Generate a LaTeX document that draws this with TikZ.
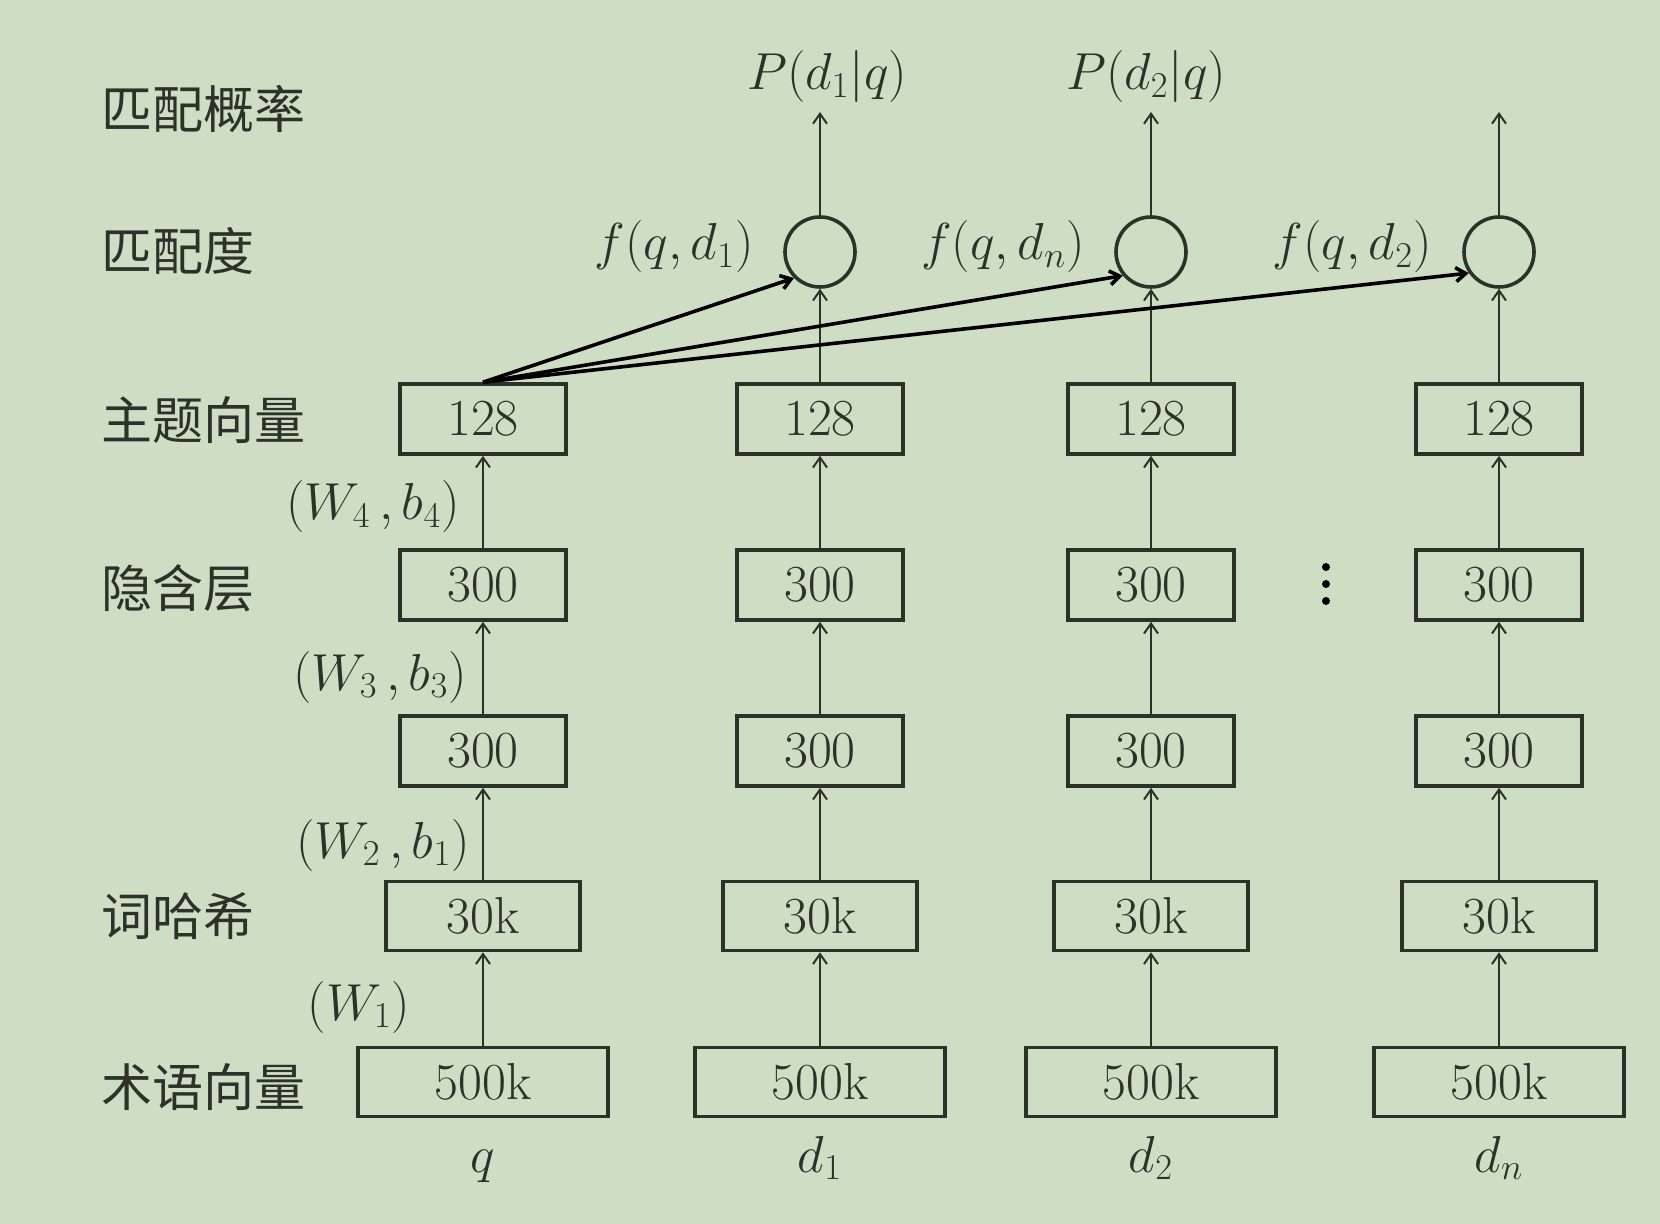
\RequirePackage{fix-cm}
\documentclass[tikz,border=0pt]{standalone}
\usepackage{fontspec}
\newfontfamily\cjk{Noto Sans CJK SC}
\usetikzlibrary{arrows.meta}
\definecolor{bg}{HTML}{CEDEC4}
\definecolor{ink}{HTML}{2C312A}
\begin{document}
\begin{tikzpicture}[x=0.5pt,y=-0.5pt,
 box/.style={draw=ink,line width=1.8pt,minimum height=35pt,inner sep=0pt,font=\fontsize{26}{26}\selectfont,text=ink},
 b128/.style={box,minimum width=83pt},
 b30/.style={box,minimum width=97pt,minimum height=34.5pt},
 b500/.style={box,minimum width=125pt,minimum height=34.5pt},
 sum/.style={circle,draw=ink,line width=1.8pt,minimum size=35pt,inner sep=0pt},
 up/.style={draw=ink,line width=1pt,-{Straight Barb[length=5pt,width=7pt]}},
 hub/.style={draw=black,line width=1.8pt,-{Straight Barb[length=5pt,width=7pt]}},
 lab/.style={font=\cjk\fontsize{25.5}{26}\selectfont,anchor=west,text=ink,inner sep=0pt},
 mlab/.style={font=\fontsize{26}{26}\selectfont,text=ink,inner sep=0pt,anchor=base}]
\fill[bg] (0,0) rectangle (1660,1224);
% left labels
\node[lab] (l1) at (101,109) {匹配概率};
\node[lab] (l2) at (101,251) {匹配度};
\node[lab] (l3) at (101,420) {主题向量};
\node[lab] (l4) at (101,588) {隐含层};
\node[lab] (l5) at (101,916) {词哈希};
\node[lab] (l6) at (101,1087) {术语向量};
% columns
\foreach \c/\x in {q/483,a/820,b/1151,n/1499} {
  \node[b500] (i\c) at (\x,1082) {500k};
  \node[b30]  (h\c) at (\x,916) {30k};
  \node[b128] (m\c) at (\x,751) {300};
  \node[b128] (k\c) at (\x,585) {300};
  \node[b128] (t\c) at (\x,419) {128};
  \draw[up] (i\c) -- (h\c);
  \draw[up] (h\c) -- (m\c);
  \draw[up] (m\c) -- (k\c);
  \draw[up] (k\c) -- (t\c);
}
% bottom labels
\node[mlab] (bq) at (483,1172) {$q$};
\node[mlab] (ba) at (820,1172) {$d_1$};
\node[mlab] (bb) at (1151,1172) {$d_2$};
\node[mlab] (bn) at (1499,1172) {$d_n$};
% weight labels
\node[mlab] (w4) at (373,520) {$(W_4\,, b_4)$};
\node[mlab] (w3) at (380,690) {$(W_3\,, b_3)$};
\node[mlab] (w2) at (383,858) {$(W_2\,, b_1)$};
\node[mlab] (w1) at (359,1020) {$(W_1)$};
% matching circles
\foreach \c/\x in {a/820,b/1151,n/1499} {
  \node[sum] (s\c) at (\x,252) {};
  \coordinate (e\c) at (\x,112);
  \draw[up] (t\c) -- (s\c);
  \draw[up] (s\c) -- (e\c);
}
\node[mlab] (fa) at (674,260) {$f(q, d_1)$};
\node[mlab] (fb) at (1003,260) {$f(q, d_n)$};
\node[mlab] (fc) at (1352,260) {$f(q, d_2)$};
\node[mlab] (pa) at (827,90) {$P(d_1|q)$};
\node[mlab] (pb) at (1146,90) {$P(d_2|q)$};
% hub connectors
\draw[hub] (tq.north) -- (sa.225);
\draw[hub] (tq.north) -- (sb.220);
\draw[hub] (tq.north) -- (sn.215);
% vdots
\foreach \y in {567,584,601} \fill[black] (1326,\y) circle (2pt);
\end{tikzpicture}
\end{document}
